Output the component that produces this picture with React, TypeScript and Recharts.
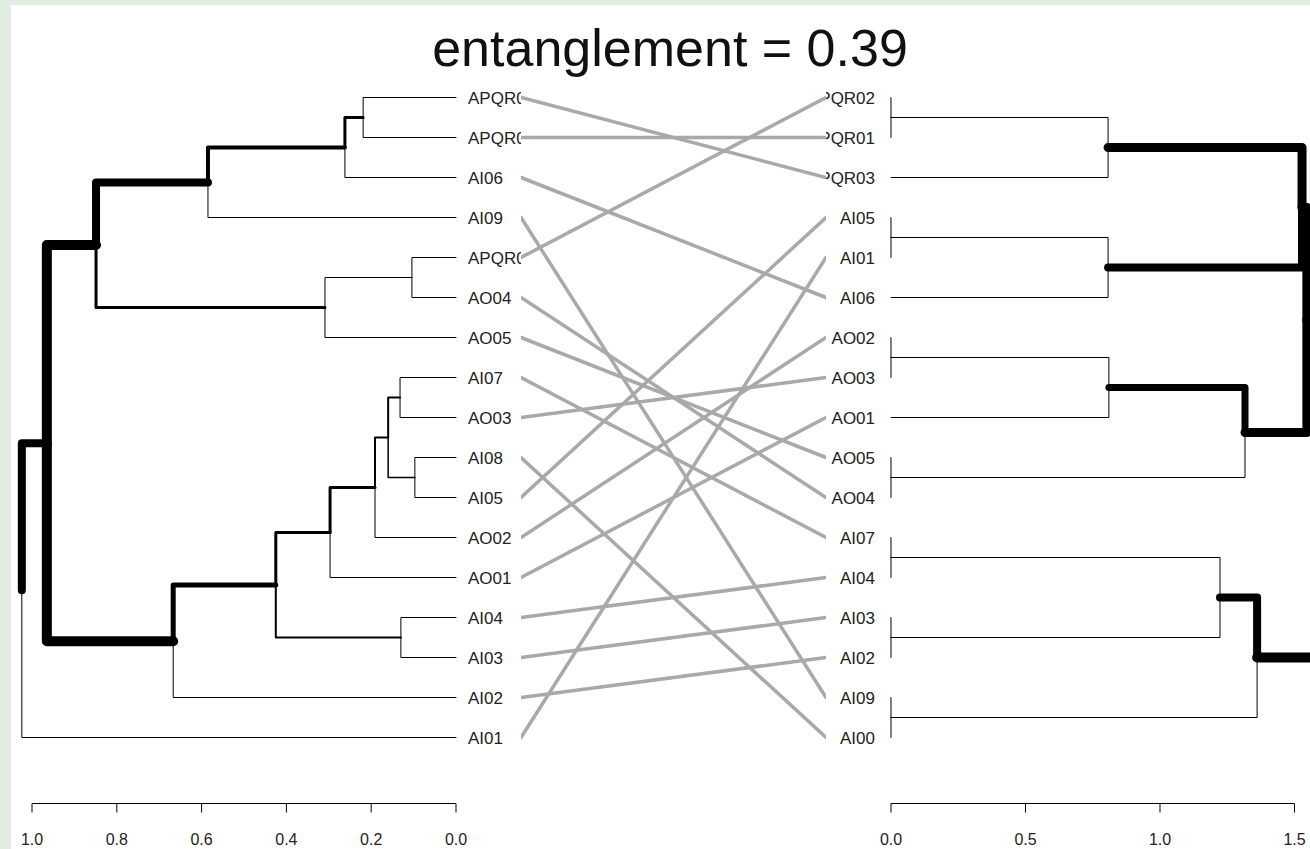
import React from 'react';
import { LineChart, Line, XAxis, YAxis, ReferenceLine } from 'recharts';

const FONT = "'Liberation Sans', Arial, sans-serif";

const title = 'entanglement = 0.39';

// leaves, top to bottom
const leftLeaves = ['APQR03', 'APQR01', 'AI06', 'AI09', 'APQR02', 'AO04', 'AO05', 'AI07', 'AO03', 'AI08', 'AI05', 'AO02', 'AO01', 'AI04', 'AI03', 'AI02', 'AI01'];
const rightLeaves = ['APQR02', 'APQR01', 'APQR03', 'AI05', 'AI01', 'AI06', 'AO02', 'AO03', 'AO01', 'AO05', 'AO04', 'AI07', 'AI04', 'AI03', 'AI02', 'AI09', 'AI00'];

// merges: [child, child, height]; a number points to an earlier merge
type Kid = string | number;
const leftMerges: [Kid, Kid, number][] = [
  ['APQR03', 'APQR01', 0.219],
  [0, 'AI06', 0.262],
  [1, 'AI09', 0.585],
  ['APQR02', 'AO04', 0.104],
  [3, 'AO05', 0.309],
  [2, 4, 0.849],
  ['AI07', 'AO03', 0.132],
  ['AI08', 'AI05', 0.097],
  [6, 7, 0.16],
  [8, 'AO02', 0.191],
  [9, 'AO01', 0.297],
  ['AI04', 'AI03', 0.13],
  [10, 11, 0.425],
  [12, 'AI02', 0.667],
  [5, 13, 0.965],
  [14, 'AI01', 1.024],
];
const rightMerges: [Kid, Kid, number][] = [
  ['APQR02', 'APQR01', 0],
  [0, 'APQR03', 0.807],
  ['AI05', 'AI01', 0],
  [2, 'AI06', 0.807],
  [1, 3, 1.528],
  ['AO02', 'AO03', 0],
  [5, 'AO01', 0.81],
  ['AO05', 'AO04', 0],
  [6, 7, 1.316],
  [4, 8, 1.546],
  ['AI07', 'AI04', 0],
  ['AI03', 'AI02', 0],
  [10, 11, 1.223],
  ['AI09', 'AI00', 0],
  [12, 13, 1.361],
  [9, 14, 1.65],
];

// left leaf -> right leaf
const links: [string, string][] = [
  ['APQR03', 'APQR03'], ['APQR01', 'APQR01'], ['AI06', 'AI06'], ['AI09', 'AI09'],
  ['APQR02', 'APQR02'], ['AO04', 'AO04'], ['AO05', 'AO05'], ['AI07', 'AI07'],
  ['AO03', 'AO03'], ['AI08', 'AI00'], ['AI05', 'AI05'], ['AO02', 'AO02'],
  ['AO01', 'AO01'], ['AI04', 'AI04'], ['AI03', 'AI03'], ['AI02', 'AI02'], ['AI01', 'AI01'],
];

const leftTicks = [0, 0.2, 0.4, 0.6, 0.8, 1.0];
const rightTicks = [0, 0.5, 1.0, 1.5];

// line widths of the edge leading into each merge node
const leftEdgeWidth: Record<number, number> = { 0: 3, 1: 4, 2: 8, 3: 1, 4: 3, 5: 10, 6: 2, 7: 1.5, 8: 2, 9: 3, 10: 3, 11: 2, 12: 5, 13: 10, 14: 8 };
const rightEdgeWidth: Record<number, number> = { 0: 1, 1: 9, 2: 1, 3: 8, 4: 9, 5: 1, 6: 7, 7: 1, 8: 9, 9: 9, 10: 1, 11: 1, 12: 8, 13: 1, 14: 10 };

const Y_MAX = 17.65;
const leafTicks = leftLeaves.map((_, i) => i);

type Pt = { x: number; y: number };

function buildEdges(leaves: string[], merges: [Kid, Kid, number][], widths: Record<number, number>) {
  const nodes: Pt[] = [];
  const pos = (k: Kid): Pt => (typeof k === 'string' ? { x: 0, y: leaves.indexOf(k) } : nodes[k]);
  const edges: { id: string; w: number; points: Pt[] }[] = [];
  merges.forEach(([a, b, h], i) => {
    const pa = pos(a);
    const pb = pos(b);
    const node = { x: h, y: (pa.y + pb.y) / 2 };
    nodes.push(node);
    [a, b].forEach((k) => {
      const c = pos(k);
      edges.push({
        id: `${i}-${k}`,
        w: typeof k === 'number' ? widths[k] ?? 1 : 1,
        points: [{ x: h, y: node.y }, { x: h, y: c.y }, { x: c.x, y: c.y }],
      });
    });
  });
  return edges.sort((p, q) => p.w - q.w);
}

const leftEdges = buildEdges(leftLeaves, leftMerges, leftEdgeWidth);
const rightEdges = buildEdges(rightLeaves, rightMerges, rightEdgeWidth);

function LeafTick(props: any) {
  const { x, y, payload, names, anchor } = props;
  return (
    <text x={x} y={y} dy="0.36em" textAnchor={anchor} fontSize={17} fill="#222" fontFamily={FONT}>
      {names[payload.value]}
    </text>
  );
}

const axisTick = { fontSize: 16, fill: '#222', fontFamily: FONT };

function edgeLines(edges: { id: string; w: number; points: Pt[] }[]) {
  return edges.map((e) => (
    <Line
      key={e.id}
      data={e.points}
      dataKey="y"
      type="linear"
      stroke="#000"
      strokeWidth={e.w}
      strokeLinecap="round"
      strokeLinejoin="round"
      dot={false}
      activeDot={false}
      isAnimationActive={false}
    />
  ));
}

export default function App() {
  return (
    <div style={{ position: 'absolute', left: 0, top: 0, width: 1310, height: 849, background: '#e3ece3', overflow: 'hidden' }}>
      <div style={{ position: 'absolute', left: 11, top: 5, right: 0, bottom: 0, background: '#fff' }} />

      <svg style={{ position: 'absolute', left: 0, top: 0 }} width={1310} height={90}>
        <text x={670} y={66} textAnchor="middle" fontSize={52} fill="#111" fontFamily={FONT}>
          {title}
        </text>
      </svg>

      {/* left dendrogram */}
      <div style={{ position: 'absolute', left: 0, top: 0 }}>
        <LineChart width={521} height={849} margin={{ top: 97.5, right: 0, bottom: 0.5, left: 10.8 }} style={{ overflow: 'hidden' }}>
          <XAxis
            type="number"
            dataKey="x"
            domain={[0, 1.05]}
            reversed
            ticks={leftTicks}
            interval={0}
            axisLine={false}
            tickSize={9}
            tickMargin={21}
            tickLine={{ stroke: '#000' }}
            tick={axisTick}
            tickFormatter={(v: number) => v.toFixed(1)}
            height={45}
          />
          <YAxis
            type="number"
            orientation="right"
            domain={[0, Y_MAX]}
            reversed
            ticks={leafTicks}
            interval={0}
            axisLine={false}
            tickLine={false}
            tickSize={0}
            tickMargin={12}
            width={65}
            tick={(p: any) => <LeafTick {...p} names={leftLeaves} anchor="start" />}
          />
          <ReferenceLine segment={[{ x: 0, y: Y_MAX }, { x: 1, y: Y_MAX }]} stroke="#000" strokeWidth={1} />
          {edgeLines(leftEdges)}
        </LineChart>
      </div>

      {/* connecting lines */}
      <div style={{ position: 'absolute', left: 521, top: 0 }}>
        <LineChart width={305} height={849} margin={{ top: 97.5, right: 0, bottom: 45.5, left: 0 }}>
          <XAxis type="number" dataKey="x" domain={[0, 1]} hide />
          <YAxis type="number" domain={[0, Y_MAX]} reversed hide />
          {links.map(([a, b]) => (
            <Line
              key={a}
              data={[{ x: 0, y: leftLeaves.indexOf(a) }, { x: 1, y: rightLeaves.indexOf(b) }]}
              dataKey="y"
              type="linear"
              stroke="#a9a9a9"
              strokeWidth={3.5}
              strokeLinecap="round"
              dot={false}
              activeDot={false}
              isAnimationActive={false}
            />
          ))}
        </LineChart>
      </div>

      {/* right dendrogram */}
      <div style={{ position: 'absolute', left: 826, top: 0 }}>
        <LineChart width={522.3} height={849} margin={{ top: 97.5, right: 0, bottom: 0.5, left: 0 }} style={{ overflow: 'hidden' }}>
          <XAxis
            type="number"
            dataKey="x"
            domain={[0, 1.7]}
            ticks={rightTicks}
            interval={0}
            axisLine={false}
            tickSize={9}
            tickMargin={21}
            tickLine={{ stroke: '#000' }}
            tick={axisTick}
            tickFormatter={(v: number) => v.toFixed(1)}
            height={45}
          />
          <YAxis
            type="number"
            orientation="left"
            domain={[0, Y_MAX]}
            reversed
            ticks={leafTicks}
            interval={0}
            axisLine={false}
            tickLine={false}
            tickSize={0}
            tickMargin={16}
            width={65}
            tick={(p: any) => <LeafTick {...p} names={rightLeaves} anchor="end" />}
          />
          <ReferenceLine segment={[{ x: 0, y: Y_MAX }, { x: 1.5, y: Y_MAX }]} stroke="#000" strokeWidth={1} />
          {edgeLines(rightEdges)}
        </LineChart>
      </div>
    </div>
  );
}
